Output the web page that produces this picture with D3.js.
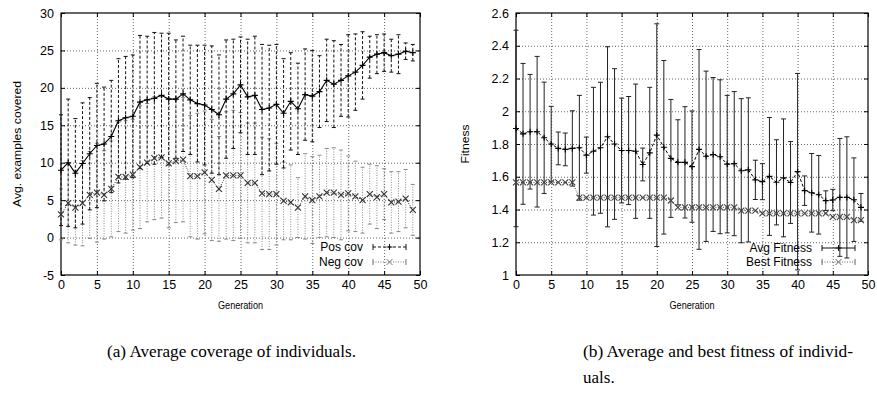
<!DOCTYPE html>
<html>
<head>
<meta charset="utf-8">
<script src="https://cdn.jsdelivr.net/npm/d3@7"></script>
<style>
  body { margin: 0; background: #fff; }
  svg text { font-family: "Liberation Sans", Arial, sans-serif; }
</style>
</head>
<body>
<svg id="chart"></svg>
<script>
// x values shared by both panels
let generations = [0,1,2,3,4,5,6,7,8,9,10,11,12,13,14,15,16,17,18,19,20,21,22,23,24,
                   25,26,27,28,29,30,31,32,33,34,35,36,37,38,39,40,41,42,43,44,45,46,47,48,49];
let xTicks = [0,5,10,15,20,25,30,35,40,45,50];

// (a) coverage
let posMean = [9.0,10.0,8.6,9.9,11.2,12.3,12.5,13.5,15.6,16.0,
               16.2,18.1,18.4,18.6,19.0,18.5,18.5,19.2,18.4,17.9,
               17.7,17.1,16.4,18.5,19.2,20.4,18.8,19.0,17.1,17.3,
               17.8,16.6,18.2,17.2,19.1,18.9,19.5,21.0,20.5,21.0,
               21.6,22.1,23.0,24.1,24.5,24.7,24.3,24.5,24.9,24.7];
let posErr  = [7.4,8.5,7.3,8.1,7.5,8.3,7.6,7.5,8.3,8.2,
               8.2,8.9,8.5,8.8,8.3,8.8,7.9,7.7,7.3,7.8,
               8.0,8.5,8.0,7.9,7.3,6.4,7.7,7.9,8.7,8.4,
               8.0,7.3,6.5,6.1,6.1,6.1,4.8,5.5,5.8,4.8,
               5.5,5.1,4.5,2.8,2.6,2.5,2.2,2.6,1.1,1.1];
let negMean = [3.1,4.6,4.0,4.6,5.7,6.0,5.7,6.5,8.1,8.1,
               8.4,9.4,10.0,10.6,10.7,9.9,10.2,10.4,8.2,8.2,
               8.7,7.7,6.5,8.3,8.3,8.3,7.3,7.3,5.9,5.8,
               5.8,4.9,4.7,4.0,5.5,5.0,5.5,6.0,6.0,5.7,
               5.9,5.5,5.0,5.8,5.4,5.8,4.7,4.8,5.2,3.7];
let negErr  = [3.4,5.3,5.0,5.7,5.8,6.6,5.9,6.4,7.3,7.5,
               7.4,8.2,7.9,8.2,8.1,8.6,8.2,8.3,8.1,8.4,
               8.2,8.1,7.0,8.5,8.7,8.4,8.0,8.0,7.5,7.4,
               6.8,5.2,5.0,4.0,5.7,5.8,5.5,5.9,6.0,6.0,
               5.0,4.7,4.4,4.0,4.2,3.4,4.1,4.0,3.9,3.4];
let coverageTicks = [-5,0,5,10,15,20,25,30];

// (b) fitness
let avgFit    = [1.895,1.862,1.875,1.875,1.838,1.800,1.773,1.767,1.773,1.777,
                 1.732,1.756,1.777,1.844,1.800,1.760,1.760,1.756,1.675,1.746,
                 1.854,1.780,1.712,1.688,1.688,1.662,1.767,1.725,1.736,1.722,
                 1.677,1.680,1.637,1.642,1.581,1.570,1.602,1.566,1.593,1.565,
                 1.631,1.515,1.502,1.490,1.454,1.458,1.474,1.474,1.460,1.413];
let avgFitErr = [0.60,0.43,0.35,0.46,0.34,0.23,0.10,0.10,0.23,0.32,
                 0.11,0.39,0.40,0.55,0.46,0.32,0.33,0.41,0.10,0.40,
                 0.68,0.53,0.36,0.26,0.34,0.34,0.61,0.52,0.47,0.47,
                 0.42,0.44,0.44,0.44,0.12,0.11,0.36,0.26,0.36,0.25,
                 0.60,0.09,0.24,0.24,0.06,0.065,0.36,0.37,0.255,0.085];
let bestFit   = [1.565,1.565,1.565,1.565,1.565,1.565,1.565,1.565,1.565,1.472,
                 1.472,1.472,1.472,1.472,1.472,1.472,1.472,1.472,1.472,1.472,
                 1.472,1.472,1.455,1.413,1.413,1.413,1.413,1.413,1.413,1.413,
                 1.413,1.413,1.393,1.393,1.393,1.377,1.377,1.377,1.377,1.377,
                 1.377,1.377,1.377,1.377,1.377,1.355,1.355,1.355,1.335,1.335];
let fitnessTicks = [1,1.2,1.4,1.6,1.8,2,2.2,2.4,2.6];

let width = 877;
let height = 398;

let svg = d3.select("#chart").attr("width", width).attr("height", height);

let plusPath = (x, y, s) => `M${x - s},${y}H${x + s}M${x},${y - s}V${y + s}`;
let crossPath = (x, y, s) => `M${x - s},${y - s}L${x + s},${y + s}M${x - s},${y + s}L${x + s},${y - s}`;

let makePanel = (box, yDomain, yTicks, yFmt, yLabel, yLabelX, yLabelLen) => {
    let g = svg.append("g");
    let x = d3.scaleLinear().domain([0, 50]).range([box.left, box.right]);
    let y = d3.scaleLinear().domain(yDomain).range([box.bottom, box.top]);
    let h = box.bottom - box.top;
    let w = box.right - box.left;

    // dotted grid
    g.append("g")
        .attr("transform", "translate(0," + box.bottom + ")")
        .call(d3.axisBottom(x).tickValues(xTicks.slice(1, -1)).tickSize(-h).tickFormat(""))
        .call(a => a.select(".domain").remove())
        .selectAll("line").attr("stroke", "#666").attr("stroke-dasharray", "1,2");
    g.append("g")
        .attr("transform", "translate(" + box.left + ",0)")
        .call(d3.axisLeft(y).tickValues(yTicks.slice(1, -1)).tickSize(-w).tickFormat(""))
        .call(a => a.select(".domain").remove())
        .selectAll("line").attr("stroke", "#666").attr("stroke-dasharray", "1,2");

    // inward ticks on all sides
    g.append("g")
        .attr("transform", "translate(0," + box.bottom + ")")
        .call(d3.axisBottom(x).tickValues(xTicks).tickSizeInner(-4).tickSizeOuter(0).tickPadding(5));
    g.append("g")
        .attr("transform", "translate(" + box.left + ",0)")
        .call(d3.axisLeft(y).tickValues(yTicks).tickSizeInner(-4).tickSizeOuter(0).tickPadding(7).tickFormat(yFmt));
    g.append("g")
        .attr("transform", "translate(0," + box.top + ")")
        .call(d3.axisTop(x).tickValues(xTicks).tickSizeInner(-4).tickSizeOuter(0).tickFormat(""));
    g.append("g")
        .attr("transform", "translate(" + box.right + ",0)")
        .call(d3.axisRight(y).tickValues(yTicks).tickSizeInner(-4).tickSizeOuter(0).tickFormat(""));
    g.selectAll(".domain").remove();
    g.selectAll(".tick text").attr("font-size", 12.5).attr("font-family", "Liberation Sans, Arial, sans-serif").attr("fill", "#000");

    g.append("rect")
        .attr("x", box.left).attr("y", box.top)
        .attr("width", w).attr("height", h)
        .attr("fill", "none").attr("stroke", "#000").attr("stroke-width", 1.2);

    g.append("text")
        .attr("transform", "translate(" + yLabelX + "," + (box.top + h / 2) + ") rotate(-90)")
        .attr("text-anchor", "middle")
        .attr("font-size", 11)
        .attr("textLength", yLabelLen)
        .attr("lengthAdjust", "spacingAndGlyphs")
        .text(yLabel);
    g.append("text")
        .attr("x", box.left + w / 2).attr("y", box.bottom + 34)
        .attr("text-anchor", "middle")
        .attr("font-size", 10.5)
        .attr("textLength", 45)
        .attr("lengthAdjust", "spacingAndGlyphs")
        .text("Generation");

    return { g: g, x: x, y: y };
};

let drawErrorBars = (p, means, errs, color, dash, capW) => {
    let bars = p.g.append("g");
    bars.selectAll("line")
        .data(means)
        .join("line")
        .attr("x1", (d, i) => p.x(generations[i]))
        .attr("x2", (d, i) => p.x(generations[i]))
        .attr("y1", (d, i) => p.y(d - errs[i]))
        .attr("y2", (d, i) => p.y(d + errs[i]))
        .attr("stroke", color)
        .attr("stroke-width", 1)
        .attr("stroke-dasharray", dash);
    bars.selectAll("path")
        .data(means)
        .join("path")
        .attr("d", (d, i) => {
            let xx = p.x(generations[i]);
            let y0 = p.y(d - errs[i]);
            let y1 = p.y(d + errs[i]);
            return `M${xx - capW},${y0}H${xx + capW}M${xx - capW},${y1}H${xx + capW}`;
        })
        .attr("stroke", color)
        .attr("stroke-width", 1)
        .attr("fill", "none");
};

let drawLine = (p, values, color, dash, width, marker) => {
    let line = d3.line()
        .x((d, i) => p.x(generations[i]))
        .y(d => p.y(d));
    p.g.append("path")
        .datum(values)
        .attr("d", line)
        .attr("fill", "none")
        .attr("stroke", color)
        .attr("stroke-width", width)
        .attr("stroke-dasharray", dash);
    p.g.append("g").selectAll("path")
        .data(values)
        .join("path")
        .attr("d", (d, i) => marker(p.x(generations[i]), p.y(d), 3))
        .attr("stroke", color)
        .attr("stroke-width", 1.1)
        .attr("fill", "none");
};

let drawLegendRow = (g, textX, y, label, color, dash, marker) => {
    g.append("text")
        .attr("x", textX).attr("y", y + 4)
        .attr("text-anchor", "end")
        .attr("font-size", 12)
        .text(label);
    let x0 = textX + 10;
    let x1 = textX + 43;
    g.append("path")
        .attr("d", `M${x0},${y}H${x1}`)
        .attr("stroke", color).attr("stroke-width", 1).attr("stroke-dasharray", dash).attr("fill", "none");
    g.append("path")
        .attr("d", `M${x0},${y - 3}V${y + 3}M${x1},${y - 3}V${y + 3}` + marker((x0 + x1) / 2, y, 3))
        .attr("stroke", color).attr("stroke-width", 1).attr("fill", "none");
};

// panel (a)
let panelA = makePanel({ left: 61, right: 420, top: 13, bottom: 275 },
    [-5, 30], coverageTicks, d => String(d), "Avg. examples covered", 21, 126);
drawErrorBars(panelA, negMean, negErr, "#888", "1,1.5", 2);
drawErrorBars(panelA, posMean, posErr, "#111", "3,2", 2);
drawLine(panelA, negMean, "#333", "1,1.5", 1, crossPath);
drawLine(panelA, posMean, "#000", null, 1.1, plusPath);
drawLegendRow(panelA.g, 363, 247, "Pos cov", "#111", "3,2", plusPath);
drawLegendRow(panelA.g, 363, 262, "Neg cov", "#777", "1,1.5", crossPath);

// panel (b)
let panelB = makePanel({ left: 516, right: 868, top: 13, bottom: 275 },
    [1, 2.6], fitnessTicks, d => String(+d.toFixed(1)), "Fitness", 469, 39);
drawErrorBars(panelB, avgFit, avgFitErr, "#222", null, 2.5);
drawLine(panelB, bestFit, "#444", "1,1.5", 1, crossPath);
drawLine(panelB, avgFit, "#000", "3,2", 1, plusPath);
drawLegendRow(panelB.g, 812, 248, "Avg Fitness", "#111", null, plusPath);
drawLegendRow(panelB.g, 812, 262, "Best Fitness", "#666", "1,1.5", crossPath);

// sub-captions
let captions = svg.append("g").attr("font-size", 17);
captions.append("text").attr("x", 107).attr("y", 357)
    .attr("textLength", 249).attr("lengthAdjust", "spacingAndGlyphs")
    .style("font-family", "Liberation Serif, serif").text("(a) Average coverage of individuals.");
captions.append("text").attr("x", 583).attr("y", 357)
    .attr("textLength", 270).attr("lengthAdjust", "spacingAndGlyphs")
    .style("font-family", "Liberation Serif, serif").text("(b) Average and best fitness of individ-");
captions.append("text").attr("x", 583).attr("y", 383)
    .style("font-family", "Liberation Serif, serif").text("uals.");
</script>
</body>
</html>
